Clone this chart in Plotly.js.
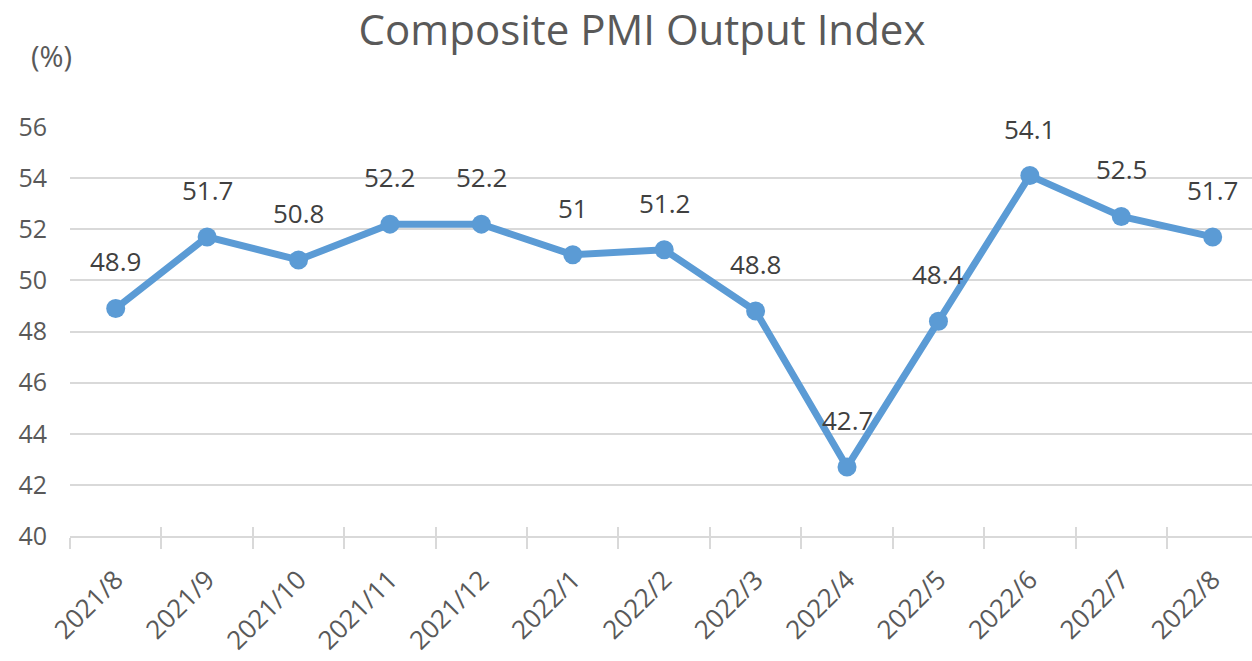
<!DOCTYPE html>
<html>
<head>
<meta charset="utf-8">
<script src="https://cdn.plot.ly/plotly-3.0.1.min.js"></script>
<style>html,body{margin:0;padding:0;background:#fff;}#chart{width:1252px;height:661px;}</style>
</head>
<body>
<div id="chart"></div>
<script>
const categories = ["2021/8","2021/9","2021/10","2021/11","2021/12","2022/1","2022/2","2022/3","2022/4","2022/5","2022/6","2022/7","2022/8"];
const pmiValues = [48.9, 51.7, 50.8, 52.2, 52.2, 51, 51.2, 48.8, 42.7, 48.4, 54.1, 52.5, 51.7];
const yTicks = [40, 42, 44, 46, 48, 50, 52, 54, 56];
const chartTitle = "Composite PMI Output Index";
const unitLabel = "(%)";

const lineColor = "#5B9BD5";
const gridColor = "#d9d9d9";
const textColor = "#595959";
const fontFamily = "'Open Sans', 'Noto Sans', sans-serif";
const xRange = [-0.5, 12.43];

const traces = [
  {
    x: categories,
    y: pmiValues,
    type: "scatter",
    mode: "lines+markers",
    line: {color: lineColor, width: 7},
    marker: {color: lineColor, size: 19},
    cliponaxis: false,
    hoverinfo: "x+y",
    xaxis: "x",
    yaxis: "y"
  },
  {
    x: categories,
    y: pmiValues,
    type: "scatter",
    mode: "none",
    hoverinfo: "skip",
    showlegend: false,
    xaxis: "x2",
    yaxis: "y"
  }
];

const annotations = categories.map((c, i) => ({
  x: c, y: pmiValues[i], xref: "x", yref: "y",
  text: String(pmiValues[i]),
  showarrow: false,
  yshift: 47,
  xanchor: "center", yanchor: "middle",
  font: {family: fontFamily, size: 26, color: "#404040"}
}));
annotations.push({
  xref: "paper", yref: "paper",
  x: (51 - 70) / 1182, y: 1 + (127 - 56) / 409,
  text: unitLabel, showarrow: false,
  xanchor: "center", yanchor: "middle",
  font: {family: fontFamily, size: 29, color: textColor}
});

const layout = {
  width: 1252, height: 661,
  margin: {l: 70, r: 0, t: 127, b: 125},
  paper_bgcolor: "#ffffff",
  plot_bgcolor: "#ffffff",
  showlegend: false,
  title: {
    text: chartTitle,
    xref: "container", yref: "container",
    x: 642 / 1252, y: 1 - 30 / 661,
    xanchor: "center", yanchor: "middle",
    font: {family: fontFamily, size: 42, color: textColor}
  },
  xaxis: {
    type: "category",
    range: xRange,
    showgrid: false,
    zeroline: false,
    showline: true,
    linecolor: gridColor,
    linewidth: 2,
    ticks: "outside",
    tickson: "boundaries",
    ticklen: 11,
    tickwidth: 2,
    tickcolor: gridColor,
    tickangle: -45,
    ticklabelstandoff: 16,
    tickfont: {family: fontFamily, size: 26, color: textColor},
    fixedrange: true
  },
  xaxis2: {
    type: "category",
    overlaying: "x",
    anchor: "y",
    side: "bottom",
    range: xRange,
    showgrid: false,
    zeroline: false,
    showline: false,
    ticks: "inside",
    tickson: "boundaries",
    ticklen: 9,
    tickwidth: 2,
    tickcolor: gridColor,
    showticklabels: false,
    fixedrange: true
  },
  yaxis: {
    range: [40, 56],
    tickvals: yTicks,
    ticktext: yTicks.map(String),
    showgrid: true,
    gridcolor: gridColor,
    gridwidth: 2,
    zeroline: false,
    showline: false,
    ticks: "",
    ticklabelstandoff: 22,
    tickfont: {family: fontFamily, size: 25, color: textColor},
    fixedrange: true
  },
  annotations: annotations
};

Plotly.newPlot("chart", traces, layout, {displayModeBar: false, staticPlot: true});
</script>
</body>
</html>
